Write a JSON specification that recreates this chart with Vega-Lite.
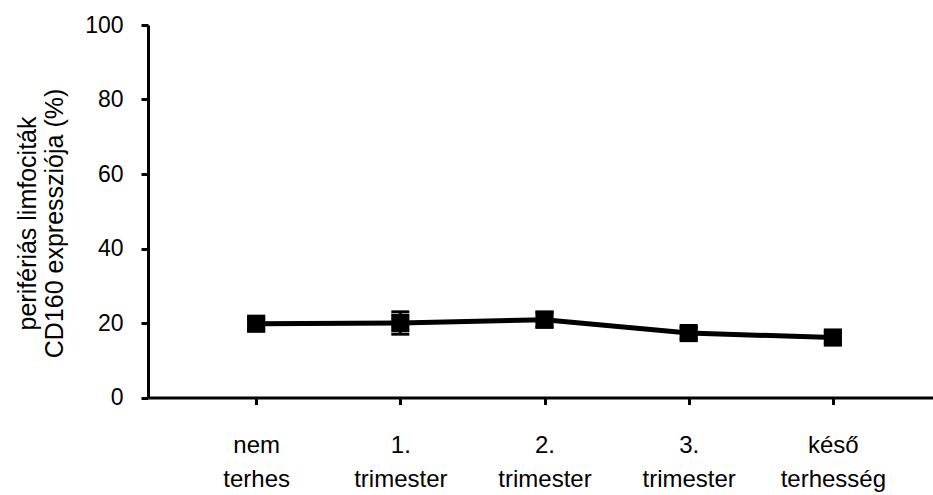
{
  "$schema": "https://vega.github.io/schema/vega-lite/v6.json",
  "autosize": {"type": "none"},
  "padding": {"left": 148, "top": 25, "right": 0, "bottom": 97.5},
  "width": 793,
  "height": 372.5,
  "background": "white",
  "config": {
    "view": {"stroke": null},
    "font": "Liberation Sans",
    "axis": {"labelFont": "Liberation Sans", "titleFont": "Liberation Sans", "labelColor": "black", "titleColor": "black", "domainColor": "black", "tickColor": "black", "grid": false}
  },
  "data": {
    "values": [
      {"cat": "nem terhes", "value": 19.8, "err": 1.5},
      {"cat": "1. trimester", "value": 20.0, "err": 3.0},
      {"cat": "2. trimester", "value": 20.9, "err": 2.0},
      {"cat": "3. trimester", "value": 17.3, "err": 1.5},
      {"cat": "késő terhesség", "value": 16.1, "err": 1.5}
    ]
  },
  "encoding": {
    "x": {
      "field": "cat",
      "type": "ordinal",
      "sort": null,
      "scale": {"type": "point", "padding": 0.75},
      "axis": {
        "title": null,
        "labelAngle": 0,
        "labelExpr": "split(datum.label, ' ')",
        "labelFontSize": 24,
        "labelLineHeight": 34,
        "labelPadding": 29,
        "tickSize": 7,
        "tickWidth": 3,
        "domainWidth": 3
      }
    },
    "y": {
      "field": "value",
      "type": "quantitative",
      "title": ["perifériás limfociták", "CD160 expressziója (%)"],
      "scale": {"domain": [0, 100], "nice": false},
      "axis": {
        "values": [0, 20, 40, 60, 80, 100],
        "titleFontSize": 25,
        "titleFontWeight": "normal",
        "titleLineHeight": 27,
        "titleAngle": -90,
        "titleAlign": "center",
        "titleBaseline": "top",
        "titleX": -133,
        "titleY": 198,
        "labelFontSize": 23,
        "labelPadding": 18,
        "tickSize": 7,
        "tickWidth": 3,
        "domainWidth": 3
      }
    }
  },
  "layer": [
    {
      "mark": {"type": "errorbar", "color": "black", "rule": {"strokeWidth": 3, "color": "black", "opacity": 1}, "ticks": {"size": 18, "thickness": 3, "color": "black", "opacity": 1}},
      "encoding": {
        "yError": {"field": "err"}
      }
    },
    {
      "mark": {"type": "line", "color": "black", "strokeWidth": 5}
    },
    {
      "mark": {"type": "point", "shape": "square", "filled": true, "color": "black", "size": 330, "opacity": 1}
    }
  ]
}
